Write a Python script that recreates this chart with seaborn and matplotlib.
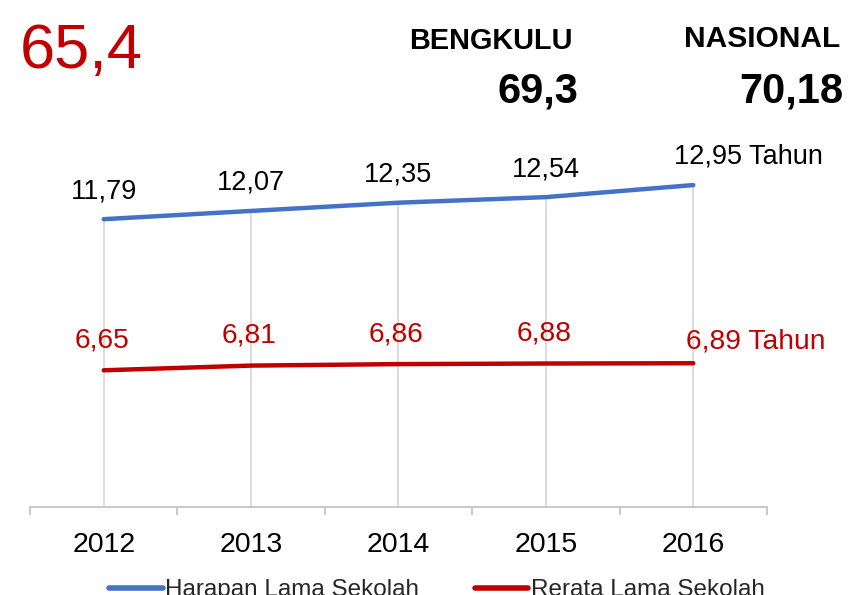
import matplotlib
matplotlib.use("Agg")
import matplotlib.pyplot as plt
import seaborn as sns
import pandas as pd

years = ["2012", "2013", "2014", "2015", "2016"]
harapan = [11.79, 12.07, 12.35, 12.54, 12.95]
rerata = [6.65, 6.81, 6.86, 6.88, 6.89]
series_names = ["Harapan Lama Sekolah", "Rerata Lama Sekolah"]
colors = ["#4472C4", "#C00000"]
ipm_prov = "65,4"
bengkulu_val = "69,3"
nasional_val = "70,18"

sns.set_theme(style="white")
plt.rcParams["font.family"] = ["Liberation Sans", "DejaVu Sans"]

W, H = 854, 595
fig = plt.figure(figsize=(W / 100, H / 100), dpi=100)
ymin, ymax = 2, 14
px_per_unit = 29.4
top_px = 507 - (ymax - ymin) * px_per_unit
ax = fig.add_axes([30 / W, 1 - 507 / H, (767 - 30) / W, (507 - top_px) / H])

df = pd.DataFrame({
    "Tahun": years * 2,
    "Nilai": harapan + rerata,
    "Seri": [series_names[0]] * len(years) + [series_names[1]] * len(years),
})
sns.lineplot(data=df, x="Tahun", y="Nilai", hue="Seri", palette=colors,
             linewidth=3.2, ax=ax, legend=False, sort=False,
             solid_capstyle="round", zorder=3)

xs = list(range(len(years)))
ax.vlines(xs, ymin, harapan, color="#d9d9d9", lw=1.3, zorder=1)

ax.set_xlim(-0.5, len(years) - 0.5)
ax.set_ylim(ymin, ymax)
ax.set_xlabel("")
ax.set_ylabel("")
ax.set_yticks([])
for s in ["left", "top", "right"]:
    ax.spines[s].set_visible(False)
ax.spines["bottom"].set_color("#c8c8c8")
ax.spines["bottom"].set_linewidth(1.4)
ax.set_xticks(xs)
ax.set_xticklabels(years, fontsize=20.5, color="#000000")
ax.tick_params(axis="x", which="major", bottom=True, length=0, pad=18)
ax.set_xticks([x - 0.5 for x in range(len(years) + 1)], minor=True)
ax.tick_params(axis="x", which="minor", bottom=True, length=5.5, width=1.4,
               color="#c8c8c8", direction="out")


def fmt(v):
    return f"{v:.2f}".replace(".", ",")


for i, v in enumerate(harapan):
    if i == len(harapan) - 1:
        ax.annotate(fmt(v) + " Tahun", (i, v), xytext=(-19 * 0.72, 22 * 0.72),
                    textcoords="offset points", ha="left", va="baseline",
                    fontsize=19.5, color="#000000")
    else:
        ax.annotate(fmt(v), (i, v), xytext=(0, 21 * 0.72), textcoords="offset points",
                    ha="center", va="baseline", fontsize=19.5, color="#000000")

for i, v in enumerate(rerata):
    if i == len(rerata) - 1:
        ax.annotate(fmt(v) + " Tahun", (i, v), xytext=(-7 * 0.72, 15 * 0.72),
                    textcoords="offset points", ha="left", va="baseline",
                    fontsize=20.3, color="#C00000")
    else:
        ax.annotate(fmt(v), (i, v), xytext=(-2 * 0.72, 23 * 0.72), textcoords="offset points",
                    ha="center", va="baseline", fontsize=20.3, color="#C00000")

# top texts
fig.text(20 / W, 1 - 68 / H, ipm_prov, fontsize=45.5, color="#C00000", ha="left", va="baseline")
fig.text(573 / W, 1 - 49 / H, "BENGKULU", fontsize=20.8, fontweight="bold", color="#000000",
         ha="right", va="baseline")
fig.text(578 / W, 1 - 102 / H, bengkulu_val, fontsize=30, fontweight="bold", color="#000000",
         ha="right", va="baseline")
fig.text(840 / W, 1 - 47 / H, "NASIONAL", fontsize=21.5, fontweight="bold", color="#000000",
         ha="right", va="baseline")
fig.text(843 / W, 1 - 102 / H, nasional_val, fontsize=30, fontweight="bold", color="#000000",
         ha="right", va="baseline")

handles = [plt.Line2D([], [], color=c, lw=4, solid_capstyle="round") for c in colors]
fig.legend(handles, series_names, loc="center", bbox_to_anchor=(437 / W, 1 - 590 / H),
           ncol=2, frameon=False, fontsize=17.5, handlelength=2.2, handletextpad=0.1,
           columnspacing=2.3, borderpad=0, borderaxespad=0)

fig.savefig("out.png", dpi=100)
